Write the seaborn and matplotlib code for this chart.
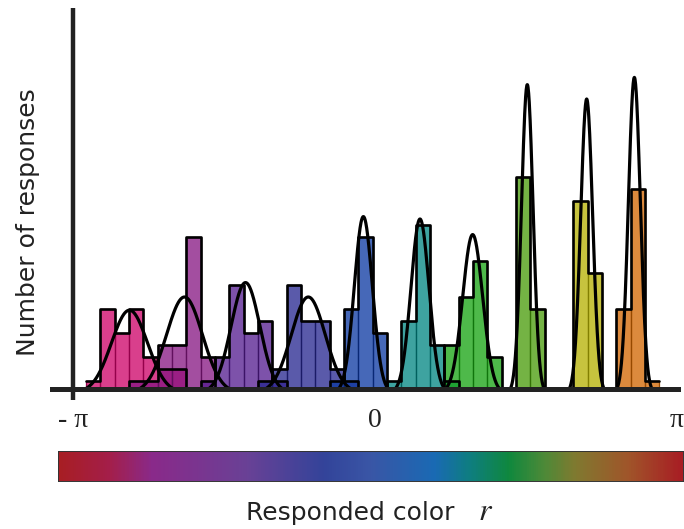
import numpy as np
import pandas as pd
import matplotlib
matplotlib.use("Agg")
import matplotlib.pyplot as plt
import seaborn as sns
from matplotlib.colors import LinearSegmentedColormap, to_rgb

sns.set_theme(style="white")
plt.rcParams['font.family'] = ['DejaVu Sans']
plt.rcParams['mathtext.fontset'] = 'stix'

# ---------------- data ----------------
# common histogram binning (radians)
bin_start = -3.006
bin_width = 0.1491
n_bins = 40

# first bin index of each group's histogram
group_first_bin = [0, 3, 8, 12, 17, 21, 25, 30, 34, 37]

# counts per bin for each of the ten stimulus groups
counts_g1 = [1, 7, 5, 7, 3, 2, 2]
counts_g2 = [1, 1, 4, 4, 13, 3]
counts_g3 = [1, 3, 9, 5, 6, 1]
counts_g4 = [1, 2, 9, 6, 6, 2, 1]
counts_g5 = [1, 7, 13, 5]
counts_g6 = [1, 6, 14, 4, 1]
counts_g7 = [4, 8, 11, 3]
counts_g8 = [18, 7]
counts_g9 = [16, 10]
counts_g10 = [7, 17, 1]
group_counts = [counts_g1, counts_g2, counts_g3, counts_g4, counts_g5,
                counts_g6, counts_g7, counts_g8, counts_g9, counts_g10]

# fitted gaussian curves: centre, width (rad) and peak height (counts)
fit_mu = [-2.554, -1.982, -1.347, -0.694, -0.121, 0.468, 1.016, 1.584, 2.202, 2.698]
fit_sigma = [0.187, 0.187, 0.150, 0.177, 0.094, 0.094, 0.104, 0.060, 0.062, 0.062]
fit_peak = [6.9, 8.0, 9.2, 8.0, 14.7, 14.5, 13.2, 25.7, 24.5, 26.3]

group_colors = ['#cd0268', '#871682', '#541b8f', '#26268f', '#0c38a2',
                '#018682', '#16a311', '#489c09', '#b6b101', '#d16500']

tick_values = [-np.pi, 0, np.pi]
tick_labels = ['- π', '0', 'π']

cbar_stops = [0.0, 0.08, 0.149, 0.30, 0.426, 0.50, 0.603, 0.66, 0.723, 0.78, 0.829, 0.915, 1.0]
cbar_colors = ['#a81e24', '#a41f4a', '#8a2a8a', '#6a4196', '#33449a', '#3a56a6', '#1a6ab4',
               '#0e7e80', '#10883e', '#4d8a38', '#807a30', '#a0552a', '#a81e24']

# ---------------- figure ----------------
W, H = 684, 529
fig = plt.figure(figsize=(W / 100, H / 100), dpi=100)

def px_axes(x0, y0, x1, y1):
    return fig.add_axes([x0 / W, 1 - y1 / H, (x1 - x0) / W, (y1 - y0) / H])

ax = px_axes(52, 8, 678, 389)

edges = bin_start + bin_width * np.arange(n_bins + 1)
centers = edges[:-1] + bin_width / 2
brange = (float(edges[0]), float(edges[-1]))

for first, counts, col in zip(group_first_bin, group_counts, group_colors):
    w = np.zeros(n_bins)
    w[first:first + len(counts)] = counts
    df = pd.DataFrame({"r": centers, "n": w})
    dark = tuple(np.array(to_rgb(col)) * 0.72)
    sns.histplot(data=df, x="r", weights="n", bins=n_bins, binrange=brange,
                 stat="count", element="bars", color=col, alpha=0.76,
                 edgecolor=dark, linewidth=0.9, ax=ax)
    sns.histplot(data=df, x="r", weights="n", bins=n_bins, binrange=brange,
                 stat="count", element="step", fill=False, color="black",
                 linewidth=1.9, ax=ax)

xs = np.linspace(-np.pi, np.pi, 2000)
for mu, sd, pk in zip(fit_mu, fit_sigma, fit_peak):
    ax.plot(xs, pk * np.exp(-0.5 * ((xs - mu) / sd) ** 2), color="black", lw=2.3,
            zorder=4)

px_per_rad = 302 / np.pi
ax.set_xlim((52 - 375) / px_per_rad, (678 - 375) / px_per_rad)
ax.set_ylim((393 - 389) / 12, (393 - 8) / 12)

for s in ["top", "right", "left"]:
    ax.spines[s].set_visible(False)
ax.spines["bottom"].set_linewidth(3.6)
ax.spines["bottom"].set_color("#222222")
ax.spines["bottom"].set_zorder(6)

# vertical axis line at -pi
ax.plot([-np.pi, -np.pi], [(393 - 400) / 12, (393 - 8) / 12], color="#222222",
        lw=3.2, solid_capstyle="butt", clip_on=False, zorder=7)

ax.set_yticks([])
ax.set_xticks(tick_values)
ax.set_xticklabels(tick_labels, family=['Liberation Serif', 'DejaVu Serif'], fontsize=20)
ax.tick_params(axis="x", length=0, pad=14, colors="#222222")
ax.set_xlabel("")
ax.set_ylabel("")

# colour bar
cax = px_axes(58, 451, 683, 481)
cmap = LinearSegmentedColormap.from_list("resp", list(zip(cbar_stops, cbar_colors)))
cax.imshow(np.linspace(0, 1, 600)[None, :], aspect="auto", cmap=cmap,
           extent=[0, 1, 0, 1])
cax.set_xticks([])
cax.set_yticks([])
for s in cax.spines.values():
    s.set_linewidth(0.7)
    s.set_color("#333333")

fig.text(350 / W, 1 - 513 / H, "Responded color", ha="center", va="center",
         fontsize=18, color="#222222")
fig.text(486 / W, 1 - 511 / H, "$r$", ha="center", va="center",
         fontsize=23, color="#222222")
fig.text(28 / W, 1 - 222 / H, "Number of responses", rotation=90, ha="center",
         va="center", fontsize=18, color="#222222")

fig.savefig("out.png", dpi=100)
